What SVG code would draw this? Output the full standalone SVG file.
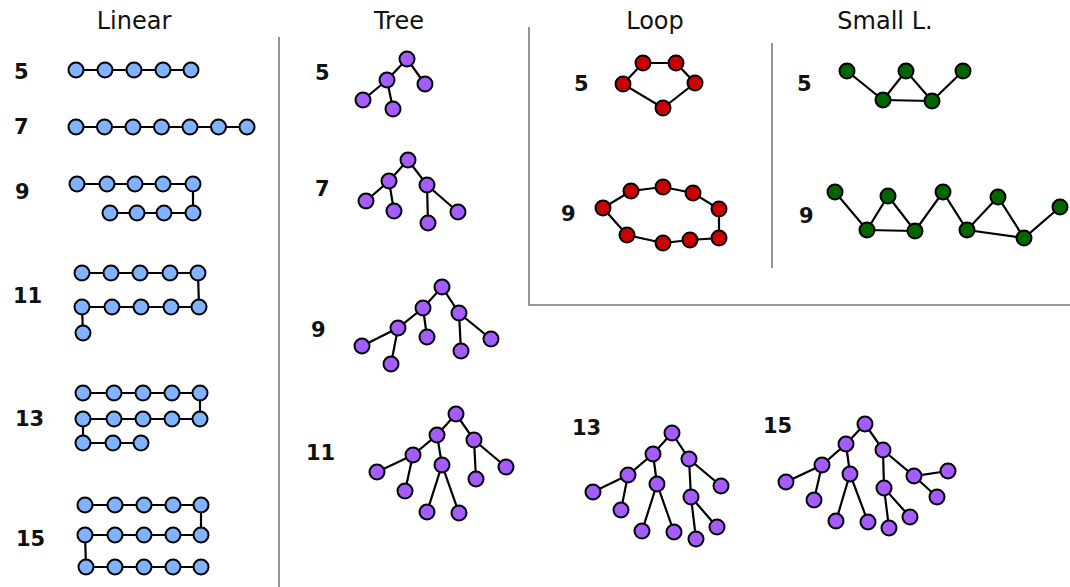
<svg xmlns="http://www.w3.org/2000/svg" width="1070" height="587" viewBox="0 0 1070 587">
<style>
.t{font-family:"DejaVu Sans","Liberation Sans",sans-serif;font-size:24px;fill:#111;text-anchor:middle}
.l{font-family:"DejaVu Sans","Liberation Sans",sans-serif;font-size:21px;font-weight:bold;fill:#111}
.e line,.e polyline,.e polygon{stroke:#000;stroke-width:2.2;fill:none}
.div{stroke:#7a7a7a;stroke-width:1.6;fill:none}
circle{stroke:#000;stroke-width:2;r:7.5}
.b circle{fill:#80b3ff}
.p circle{fill:#a55cff}
.r circle{fill:#cc0000}
.g circle{fill:#006600}
</style>
<rect width="1070" height="587" fill="#fff"/>
<g id="dividers">
<line class="div" x1="279" y1="37" x2="279" y2="587"/>
<polyline class="div" points="529,27 529,305 1070,305"/>
<line class="div" x1="772" y1="43" x2="772" y2="268"/>
</g>
<g id="titles">
<text class="t" x="134" y="29">Linear</text>
<text class="t" x="399" y="29">Tree</text>
<text class="t" x="655" y="29">Loop</text>
<text class="t" x="885" y="29">Small L.</text>
</g>
<g id="labels">
<text class="l" x="14" y="79">5</text>
<text class="l" x="14" y="134">7</text>
<text class="l" x="15" y="199">9</text>
<text class="l" x="13" y="303">11</text>
<text class="l" x="15" y="426">13</text>
<text class="l" x="16" y="546">15</text>
<text class="l" x="315" y="80">5</text>
<text class="l" x="315" y="196">7</text>
<text class="l" x="311" y="337">9</text>
<text class="l" x="306" y="460">11</text>
<text class="l" x="572" y="435">13</text>
<text class="l" x="763" y="433">15</text>
<text class="l" x="574" y="91">5</text>
<text class="l" x="561" y="221">9</text>
<text class="l" x="797" y="91">5</text>
<text class="l" x="799" y="223">9</text>
</g>
<g id="connectors" class="e">
<polyline points="76,70 191,70"/>
<polyline points="76,127 247,127"/>
<polyline points="77,184 193,184 193,213 110,213"/>
<polyline points="82,273 198,273 199,307 82,307 83,333"/>
<polyline points="83,393 200,393 200,419 83,419 83,443 141,443"/>
<polyline points="85,505 201,505 201,535 85,535 86,567 201,567"/>
<polyline points="363,100 387,80 407,59 425,84"/><line x1="387" y1="80" x2="393" y2="109"/>
<polyline points="366,201 389,181 408,160 427,185 458,212"/><line x1="389" y1="181" x2="394" y2="211"/><line x1="427" y1="185" x2="428" y2="223"/>
<polyline points="362,346 398,328 423,308 442,287 459,313 491,339"/><line x1="398" y1="328" x2="391" y2="364"/><line x1="423" y1="308" x2="427" y2="337"/><line x1="459" y1="313" x2="461" y2="351"/>
<polyline points="377,472 413,455 437,435 456,414 474,440 506,467"/><line x1="413" y1="455" x2="405" y2="491"/><polyline points="427,512 442,465 459,513"/><line x1="437" y1="435" x2="442" y2="465"/><line x1="474" y1="440" x2="476" y2="479"/>
<polyline points="593,492 628,475 653,454 672,433 689,459 721,486"/><line x1="628" y1="475" x2="621" y2="510"/><line x1="653" y1="454" x2="657" y2="484"/><polyline points="642,531 657,484 674,532"/><line x1="689" y1="459" x2="691" y2="497"/><polyline points="696,539 691,497 717,527"/>
<polyline points="786,482 822,465 846,444 865,424 883,450 914,476 948,471"/><line x1="822" y1="465" x2="814" y2="500"/><line x1="846" y1="444" x2="850" y2="474"/><polyline points="836,521 850,474 868,522"/><line x1="883" y1="450" x2="884" y2="488"/><polyline points="889,528 884,488 910,517"/><line x1="914" y1="476" x2="937" y2="497"/>
<polygon points="643,63 676,63 695,83 663,108 623,84"/>
<polygon points="603,208 631,191 663,187 693,193 719,209 719,238 690,240 663,243 627,235"/>
<polyline points="847,71 883,100 906,71 932,101 963,71"/><line x1="883" y1="100" x2="932" y2="101"/>
<polyline points="835,192 867,230 888,196 915,231 943,192 967,230 998,197 1024,238 1060,207"/><line x1="867" y1="230" x2="915" y2="231"/><line x1="967" y1="230" x2="1024" y2="238"/>
</g>
<g id="linear-5" class="b"><circle cx="76" cy="70" r="7.5"/><circle cx="105" cy="70" r="7.5"/><circle cx="134" cy="70" r="7.5"/><circle cx="163" cy="70" r="7.5"/><circle cx="191" cy="70" r="7.5"/></g>
<g id="linear-7" class="b"><circle cx="76" cy="127" r="7.5"/><circle cx="104.5" cy="127" r="7.5"/><circle cx="133" cy="127" r="7.5"/><circle cx="161.5" cy="127" r="7.5"/><circle cx="190" cy="127" r="7.5"/><circle cx="218.5" cy="127" r="7.5"/><circle cx="247" cy="127" r="7.5"/></g>
<g id="linear-9" class="b"><circle cx="77" cy="184" r="7.5"/><circle cx="107" cy="184" r="7.5"/><circle cx="135" cy="184" r="7.5"/><circle cx="163" cy="184" r="7.5"/><circle cx="193" cy="184" r="7.5"/><circle cx="110" cy="213" r="7.5"/><circle cx="137" cy="213" r="7.5"/><circle cx="164" cy="213" r="7.5"/><circle cx="193" cy="213" r="7.5"/></g>
<g id="linear-11" class="b"><circle cx="82" cy="273" r="7.5"/><circle cx="111" cy="273" r="7.5"/><circle cx="140" cy="273" r="7.5"/><circle cx="170" cy="273" r="7.5"/><circle cx="198" cy="273" r="7.5"/><circle cx="82" cy="307" r="7.5"/><circle cx="112" cy="307" r="7.5"/><circle cx="141" cy="307" r="7.5"/><circle cx="171" cy="307" r="7.5"/><circle cx="199" cy="307" r="7.5"/><circle cx="83" cy="333" r="7.5"/></g>
<g id="linear-13" class="b"><circle cx="83" cy="393" r="7.5"/><circle cx="114" cy="393" r="7.5"/><circle cx="143" cy="393" r="7.5"/><circle cx="172" cy="393" r="7.5"/><circle cx="200" cy="393" r="7.5"/><circle cx="83" cy="419" r="7.5"/><circle cx="114" cy="419" r="7.5"/><circle cx="143" cy="419" r="7.5"/><circle cx="172" cy="419" r="7.5"/><circle cx="200" cy="419" r="7.5"/><circle cx="83" cy="443" r="7.5"/><circle cx="113" cy="443" r="7.5"/><circle cx="141" cy="443" r="7.5"/></g>
<g id="linear-15" class="b"><circle cx="85" cy="505" r="7.5"/><circle cx="115" cy="505" r="7.5"/><circle cx="144" cy="505" r="7.5"/><circle cx="173" cy="505" r="7.5"/><circle cx="201" cy="505" r="7.5"/><circle cx="85" cy="535" r="7.5"/><circle cx="115" cy="535" r="7.5"/><circle cx="144" cy="535" r="7.5"/><circle cx="173" cy="535" r="7.5"/><circle cx="201" cy="535" r="7.5"/><circle cx="86" cy="567" r="7.5"/><circle cx="115" cy="567" r="7.5"/><circle cx="144" cy="567" r="7.5"/><circle cx="173" cy="567" r="7.5"/><circle cx="201" cy="567" r="7.5"/></g>
<g id="tree-5" class="p"><circle cx="407" cy="59" r="7.5"/><circle cx="387" cy="80" r="7.5"/><circle cx="425" cy="84" r="7.5"/><circle cx="363" cy="100" r="7.5"/><circle cx="393" cy="109" r="7.5"/></g>
<g id="tree-7" class="p"><circle cx="408" cy="160" r="7.5"/><circle cx="389" cy="181" r="7.5"/><circle cx="427" cy="185" r="7.5"/><circle cx="366" cy="201" r="7.5"/><circle cx="394" cy="211" r="7.5"/><circle cx="428" cy="223" r="7.5"/><circle cx="458" cy="212" r="7.5"/></g>
<g id="tree-9" class="p"><circle cx="442" cy="287" r="7.5"/><circle cx="423" cy="308" r="7.5"/><circle cx="459" cy="313" r="7.5"/><circle cx="398" cy="328" r="7.5"/><circle cx="427" cy="337" r="7.5"/><circle cx="362" cy="346" r="7.5"/><circle cx="391" cy="364" r="7.5"/><circle cx="461" cy="351" r="7.5"/><circle cx="491" cy="339" r="7.5"/></g>
<g id="tree-11" class="p"><circle cx="456" cy="414" r="7.5"/><circle cx="437" cy="435" r="7.5"/><circle cx="474" cy="440" r="7.5"/><circle cx="413" cy="455" r="7.5"/><circle cx="442" cy="465" r="7.5"/><circle cx="377" cy="472" r="7.5"/><circle cx="405" cy="491" r="7.5"/><circle cx="427" cy="512" r="7.5"/><circle cx="459" cy="513" r="7.5"/><circle cx="476" cy="479" r="7.5"/><circle cx="506" cy="467" r="7.5"/></g>
<g id="tree-13" class="p"><circle cx="672" cy="433" r="7.5"/><circle cx="653" cy="454" r="7.5"/><circle cx="689" cy="459" r="7.5"/><circle cx="628" cy="475" r="7.5"/><circle cx="657" cy="484" r="7.5"/><circle cx="593" cy="492" r="7.5"/><circle cx="621" cy="510" r="7.5"/><circle cx="642" cy="531" r="7.5"/><circle cx="674" cy="532" r="7.5"/><circle cx="691" cy="497" r="7.5"/><circle cx="721" cy="486" r="7.5"/><circle cx="696" cy="539" r="7.5"/><circle cx="717" cy="527" r="7.5"/></g>
<g id="tree-15" class="p"><circle cx="865" cy="424" r="7.5"/><circle cx="846" cy="444" r="7.5"/><circle cx="883" cy="450" r="7.5"/><circle cx="822" cy="465" r="7.5"/><circle cx="850" cy="474" r="7.5"/><circle cx="786" cy="482" r="7.5"/><circle cx="814" cy="500" r="7.5"/><circle cx="836" cy="521" r="7.5"/><circle cx="868" cy="522" r="7.5"/><circle cx="884" cy="488" r="7.5"/><circle cx="914" cy="476" r="7.5"/><circle cx="889" cy="528" r="7.5"/><circle cx="910" cy="517" r="7.5"/><circle cx="948" cy="471" r="7.5"/><circle cx="937" cy="497" r="7.5"/></g>
<g id="loop-5" class="r"><circle cx="643" cy="63" r="7.5"/><circle cx="676" cy="63" r="7.5"/><circle cx="695" cy="83" r="7.5"/><circle cx="663" cy="108" r="7.5"/><circle cx="623" cy="84" r="7.5"/></g>
<g id="loop-9" class="r"><circle cx="603" cy="208" r="7.5"/><circle cx="631" cy="191" r="7.5"/><circle cx="663" cy="187" r="7.5"/><circle cx="693" cy="193" r="7.5"/><circle cx="719" cy="209" r="7.5"/><circle cx="719" cy="238" r="7.5"/><circle cx="690" cy="240" r="7.5"/><circle cx="663" cy="243" r="7.5"/><circle cx="627" cy="235" r="7.5"/></g>
<g id="small-5" class="g"><circle cx="847" cy="71" r="7.5"/><circle cx="883" cy="100" r="7.5"/><circle cx="906" cy="71" r="7.5"/><circle cx="932" cy="101" r="7.5"/><circle cx="963" cy="71" r="7.5"/></g>
<g id="small-9" class="g"><circle cx="835" cy="192" r="7.5"/><circle cx="867" cy="230" r="7.5"/><circle cx="888" cy="196" r="7.5"/><circle cx="915" cy="231" r="7.5"/><circle cx="943" cy="192" r="7.5"/><circle cx="967" cy="230" r="7.5"/><circle cx="998" cy="197" r="7.5"/><circle cx="1024" cy="238" r="7.5"/><circle cx="1060" cy="207" r="7.5"/></g>
</svg>
